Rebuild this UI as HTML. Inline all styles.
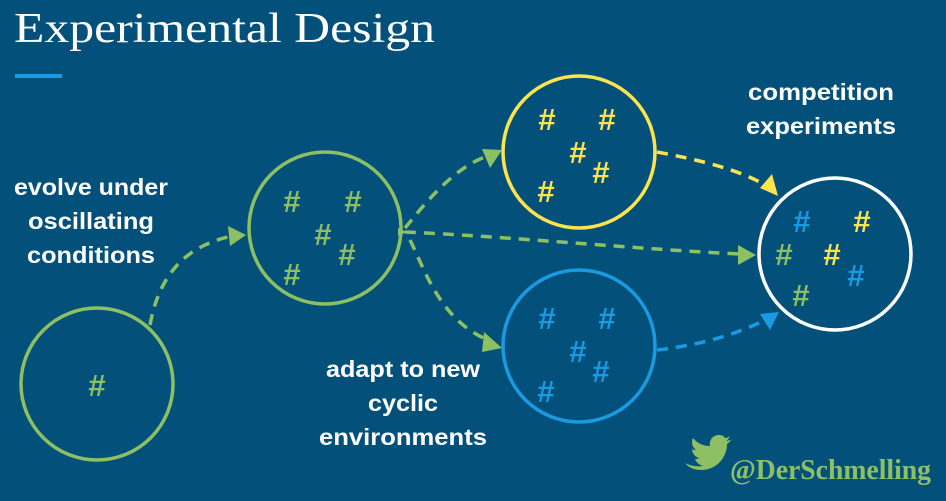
<!DOCTYPE html>
<html><head><meta charset="utf-8"><style>
html,body{margin:0;padding:0;background:#03517a;}
svg{display:block}
.l{font-family:"Liberation Sans",sans-serif;font-weight:bold;font-size:23px;fill:#fff;text-anchor:middle}
.h{font-family:"Liberation Sans",sans-serif;font-weight:bold;font-size:31px;text-anchor:middle}
</style></head><body>
<svg width="946" height="501" viewBox="0 0 946 501">
<rect width="946" height="501" fill="#03517a"/>
<text x="14" y="42" font-family="Liberation Serif,serif" font-size="42" fill="#fff" textLength="421" lengthAdjust="spacingAndGlyphs">Experimental Design</text>
<rect x="15" y="74" width="47" height="4" fill="#1a9ae0"/>
<g fill="none" stroke-width="3.5">
<circle cx="97" cy="384" r="76" stroke="#8cc063"/>
<circle cx="325" cy="228" r="76" stroke="#8cc063"/>
<circle cx="579" cy="152" r="76" stroke="#fde44f"/>
<circle cx="579" cy="346" r="76" stroke="#1a9ae0"/>
<circle cx="835" cy="254" r="76" stroke="#fff"/>
</g>
<g fill="none" stroke-width="3.5" stroke-dasharray="11,8">
<path d="M150,325 C160,270 190,245 232,236" stroke="#8cc063"/>
<path d="M405,228 C420,210 450,170 485,157" stroke="#8cc063"/>
<path d="M405,232 C500,236 650,250 740,254" stroke="#8cc063"/>
<path d="M410,240 C425,270 440,320 488,340" stroke="#8cc063"/>
<path d="M657,152 C700,160 740,170 765,185" stroke="#fde44f"/>
<path d="M657,350 C700,345 735,335 765,320" stroke="#1a9ae0"/>
</g>
<polygon points="246,235 228,226 230,246" fill="#8cc063"/>
<polygon points="502,150 482,149 490,168" fill="#8cc063"/>
<polygon points="756,255 738,245 738,265" fill="#8cc063"/>
<polygon points="502,348 484,332 482,352" fill="#8cc063"/>
<polygon points="407,232 398,228 398,236" fill="#8cc063"/>
<polygon points="778,196 760,188 772,174" fill="#fde44f"/>
<polygon points="779,312 770,330 760,314" fill="#1a9ae0"/>
<text class="h" x="97" y="396" fill="#8cc063">#</text>
<g class="h" fill="#8cc063"><text x="292" y="212">#</text><text x="353" y="212">#</text><text x="323" y="245">#</text><text x="347" y="265">#</text><text x="292" y="285">#</text></g>
<g class="h" fill="#fde44f"><text x="547" y="130">#</text><text x="607" y="130">#</text><text x="578" y="163">#</text><text x="601" y="183">#</text><text x="546" y="202">#</text></g>
<g class="h" fill="#1a9ae0"><text x="547" y="329">#</text><text x="607" y="329">#</text><text x="578" y="362">#</text><text x="601" y="382">#</text><text x="546" y="402">#</text></g>
<text class="h" x="802" y="232" fill="#1a9ae0">#</text><text class="h" x="862" y="232" fill="#fde44f">#</text>
<text class="h" x="784" y="265" fill="#8cc063">#</text><text class="h" x="832" y="265" fill="#fde44f">#</text>
<text class="h" x="856" y="286" fill="#1a9ae0">#</text><text class="h" x="801" y="306" fill="#8cc063">#</text>
<text class="l" x="91" y="195" textLength="154" lengthAdjust="spacingAndGlyphs">evolve under</text>
<text class="l" x="91" y="229" textLength="126" lengthAdjust="spacingAndGlyphs">oscillating</text>
<text class="l" x="91" y="263" textLength="128" lengthAdjust="spacingAndGlyphs">conditions</text>
<text class="l" x="821" y="100" textLength="146" lengthAdjust="spacingAndGlyphs">competition</text>
<text class="l" x="821" y="134" textLength="150" lengthAdjust="spacingAndGlyphs">experiments</text>
<text class="l" x="403" y="377" textLength="154" lengthAdjust="spacingAndGlyphs">adapt to new</text>
<text class="l" x="403" y="411" textLength="70" lengthAdjust="spacingAndGlyphs">cyclic</text>
<text class="l" x="403" y="445" textLength="168" lengthAdjust="spacingAndGlyphs">environments</text>
<path d="M685,463 c6,3 12,4 18,3 c-4,-1 -7,-4 -8,-7 c2,0 3,0 4,-1 c-4,-1 -7,-5 -7,-9 c1,1 3,1 4,1 c-4,-3 -5,-8 -3,-12 c4,5 10,8 17,8 c-1,-6 3,-11 9,-11 c3,0 5,1 6,3 c2,0 4,-1 5,-2 c-1,2 -2,4 -4,5 c2,0 3,-1 5,-1 c-1,2 -3,3 -4,4 c0,13 -10,26 -26,26 c-6,0 -12,-2 -16,-7z" fill="#8cc063"/>
<text x="730" y="479" font-family="Liberation Serif,serif" font-size="29" font-weight="bold" fill="#8cc063" textLength="201" lengthAdjust="spacingAndGlyphs">@DerSchmelling</text>
</svg>
</body></html>
